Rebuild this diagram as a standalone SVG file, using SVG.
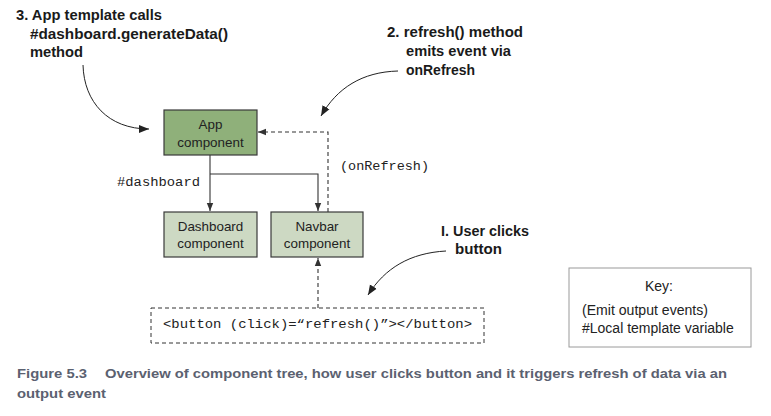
<svg xmlns="http://www.w3.org/2000/svg" width="771" height="416" viewBox="0 0 771 416">
<style>
.node rect{stroke:#3a3a3a;stroke-width:1.2}
.app rect{fill:#8fb07a}
.child rect{fill:#cdd9c3}
.nt{font-family:"Liberation Sans",Arial,sans-serif;font-size:13.4px;fill:#222;text-anchor:middle}
.mono{font-family:"Liberation Mono","Courier New",monospace;font-size:13.7px;fill:#222}
.ann{font-family:"Liberation Sans",Arial,sans-serif;font-weight:bold;font-size:15.5px;fill:#1a1a1a}
.key{font-family:"Liberation Sans",Arial,sans-serif;font-size:14px;fill:#222}
.cap{font-family:"Liberation Sans",Arial,sans-serif;font-weight:bold;font-size:13.5px;fill:#5b6170}
.ln{fill:none;stroke:#333;stroke-width:1.1}
.dash{fill:none;stroke:#333;stroke-width:1.1;stroke-dasharray:4 3}
.curve{fill:none;stroke:#222;stroke-width:1}
</style>
<defs>
<marker id="ah" viewBox="0 0 10 10" refX="10" refY="5" markerWidth="8" markerHeight="8" markerUnits="userSpaceOnUse" orient="auto">
<path d="M0,1 L10,5 L0,9 z" fill="#333"/>
</marker>
<marker id="ahb" viewBox="0 0 10 10" refX="10" refY="5" markerWidth="10" markerHeight="10" markerUnits="userSpaceOnUse" orient="auto">
<path d="M0,1 L10,5 L0,9 z" fill="#222"/>
</marker>
</defs>

<g id="connectors">
<path class="ln" d="M210,155 V211" marker-end="url(#ah)"/>
<path class="ln" d="M210,174 H318 V211" marker-end="url(#ah)"/>
<path class="dash" d="M328,212 V132 H258" marker-end="url(#ah)"/>
<path class="dash" d="M318,308 V258" marker-end="url(#ah)"/>
<path class="curve" d="M83,65 C84,102 108,129 149,129" marker-end="url(#ahb)"/>
<path class="curve" d="M398,71 C362,72 337,88 321,116" marker-end="url(#ahb)"/>
<path class="curve" d="M446,251 C410,253 385,268 368,295" marker-end="url(#ahb)"/>
</g>

<g id="app" class="node app">
<rect x="164" y="110" width="93" height="45"/>
<text class="nt" x="210.5" y="129">App</text>
<text class="nt" x="210.5" y="147">component</text>
</g>

<g id="dashboard" class="node child">
<rect x="164" y="212" width="93" height="45"/>
<text class="nt" x="210.5" y="231">Dashboard</text>
<text class="nt" x="210.5" y="248">component</text>
</g>

<g id="navbar" class="node child">
<rect x="271" y="212" width="92" height="45"/>
<text class="nt" x="317" y="231">Navbar</text>
<text class="nt" x="317" y="248">component</text>
</g>

<g id="button">
<rect x="151" y="308" width="333" height="35" fill="none" stroke="#333" stroke-width="1" stroke-dasharray="4 3"/>
<text class="mono" x="163" y="328" textLength="309" lengthAdjust="spacingAndGlyphs">&lt;button (click)=“refresh()”&gt;&lt;/button&gt;</text>
</g>

<g id="labels">
<text class="mono" x="117" y="186" textLength="83" lengthAdjust="spacingAndGlyphs">#dashboard</text>
<text class="mono" x="340" y="170" textLength="89" lengthAdjust="spacingAndGlyphs">(onRefresh)</text>
</g>

<g id="ann3">
<text class="ann" x="16" y="20" textLength="146" lengthAdjust="spacingAndGlyphs">3. App template calls</text>
<text class="ann" x="30" y="39" textLength="198" lengthAdjust="spacingAndGlyphs">#dashboard.generateData()</text>
<text class="ann" x="30" y="57" textLength="53" lengthAdjust="spacingAndGlyphs">method</text>
</g>

<g id="ann2">
<text class="ann" x="387" y="37" textLength="136" lengthAdjust="spacingAndGlyphs">2. refresh() method</text>
<text class="ann" x="406" y="56" textLength="105" lengthAdjust="spacingAndGlyphs">emits event via</text>
<text class="ann" x="406" y="75" textLength="69" lengthAdjust="spacingAndGlyphs">onRefresh</text>
</g>

<g id="ann1">
<text class="ann" x="441" y="236" textLength="88" lengthAdjust="spacingAndGlyphs">I. User clicks</text>
<text class="ann" x="455" y="254" textLength="47" lengthAdjust="spacingAndGlyphs">button</text>
</g>

<g id="key">
<rect x="569" y="268" width="182" height="79" fill="#fff" stroke="#9a9a9a" stroke-width="1"/>
<text class="key" x="659" y="291" text-anchor="middle">Key:</text>
<text class="key" x="582" y="315" textLength="126" lengthAdjust="spacingAndGlyphs">(Emit output events)</text>
<text class="key" x="582" y="333">#Local template variable</text>
</g>

<g id="caption">
<text class="cap" x="17" y="378" textLength="70" lengthAdjust="spacingAndGlyphs">Figure 5.3</text>
<text class="cap" x="105" y="378" textLength="622" lengthAdjust="spacingAndGlyphs">Overview of component tree, how user clicks button and it triggers refresh of data via an</text>
<text class="cap" x="17" y="398" textLength="89" lengthAdjust="spacingAndGlyphs">output event</text>
</g>
</svg>
